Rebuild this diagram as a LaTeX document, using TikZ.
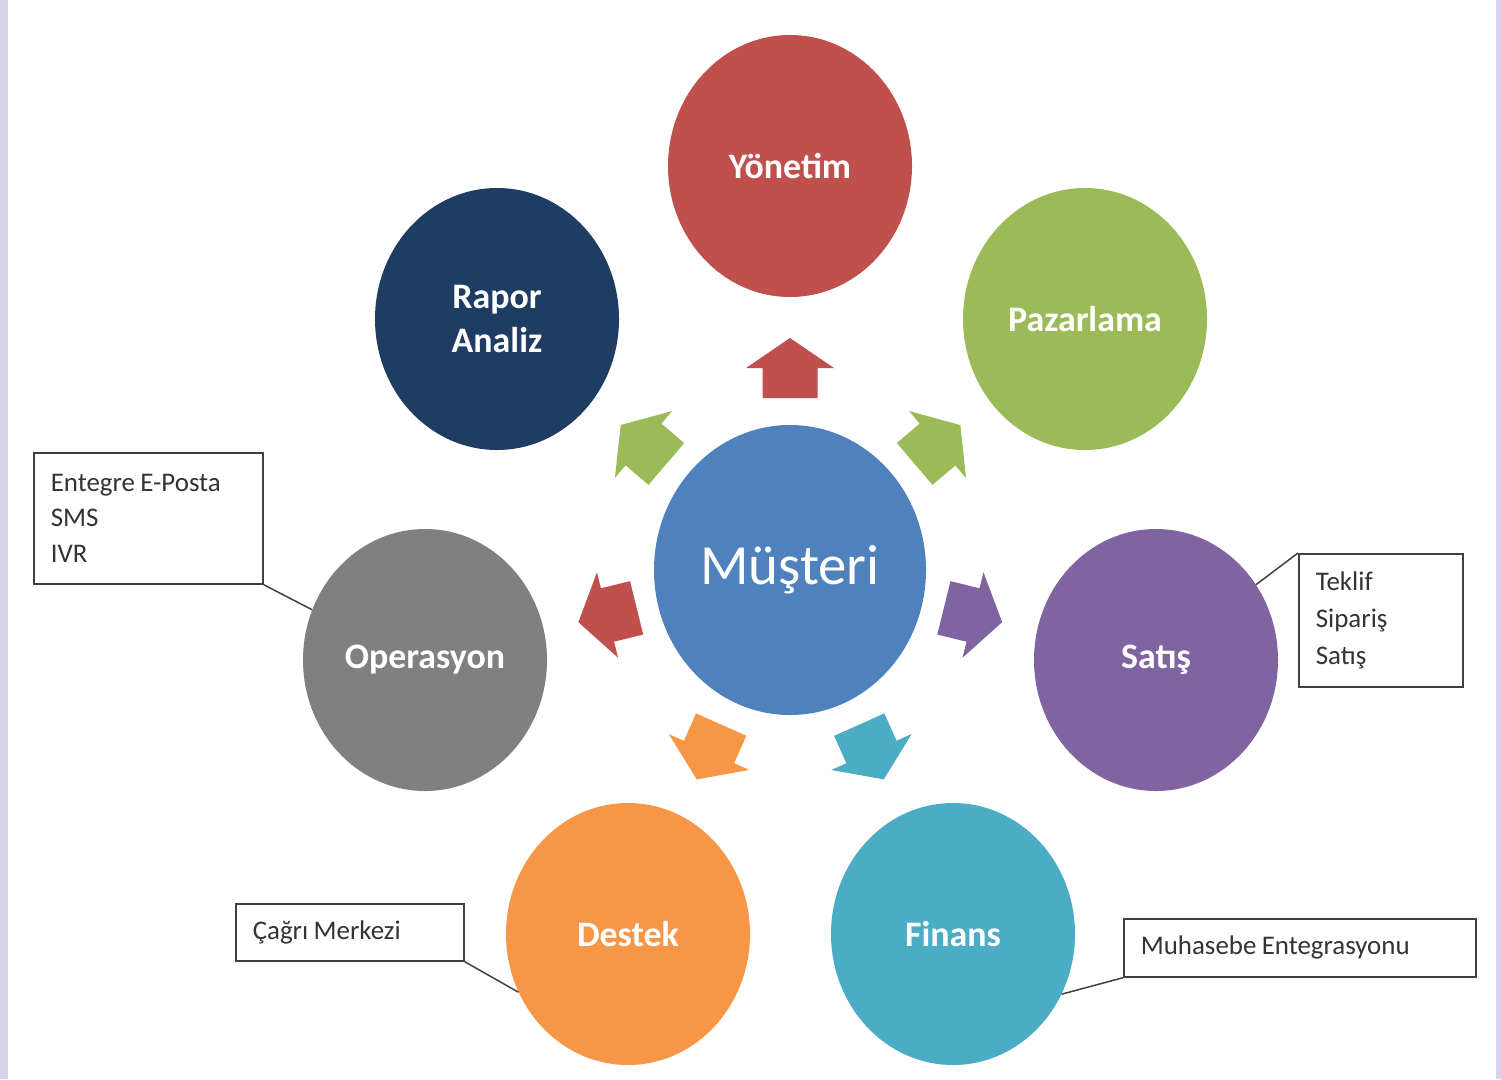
\documentclass[tikz,border=0pt]{standalone}
\usepackage{fontspec}
\setmainfont{Carlito}
\usetikzlibrary{shapes.geometric}

\definecolor{cRed}{HTML}{C0504D}
\definecolor{cNavy}{HTML}{1F3D63}
\definecolor{cGreen}{HTML}{9BBB59}
\definecolor{cGray}{HTML}{808080}
\definecolor{cBlue}{HTML}{4F81BD}
\definecolor{cPurple}{HTML}{8064A2}
\definecolor{cOrange}{HTML}{F79646}
\definecolor{cTeal}{HTML}{4BACC6}
\definecolor{cLav}{HTML}{D9D2EA}
\definecolor{cLine}{HTML}{404040}

\tikzset{
  unit/.style={ellipse, inner sep=0pt, minimum width=244bp, minimum height=262bp,
    text=white, align=center, font=\fontsize{36}{44}\selectfont\bfseries},
  hub/.style={ellipse, inner sep=0pt, minimum width=272bp, minimum height=290bp,
    fill=cBlue, text=white, font=\fontsize{57}{60}\selectfont},
  note/.style={draw=cLine, line width=1.7pt, fill=white, rectangle, anchor=north west,
    inner xsep=17bp, inner ysep=0pt, align=left, text=black!80,
    font=\fontsize{27}{36}\selectfont,
    execute at begin node={\spaceskip=0.2em\relax}},
  leader/.style={draw=cLine, line width=1.5pt},
  blockarrow/.pic={\fill[pic actions] (30,0) -- (0,44) -- (0,27.5) -- (-30,27.5)
    -- (-30,-27.5) -- (0,-27.5) -- (0,-44) -- cycle;},
}

\begin{document}
\begin{tikzpicture}[x=1bp, y=-1bp]
  % page and side strips
  \fill[white] (0,0) rectangle (1501,1079);
  \useasboundingbox (0,0) rectangle (1501,1079);
  \fill[cLav] (0,0) rectangle (8,1079);
  \fill[cLav] (1496,0) rectangle (1501,1079);

  % departments around the customer
  \node[hub] (m) at (790,570) {Müşteri};
  \node[unit, fill=cRed]    (yon) at (790,166)  {Yönetim};
  \node[unit, fill=cNavy]   (rap) at (497,319)  {Rapor\\Analiz};
  \node[unit, fill=cGreen]  (paz) at (1085,319) {Pazarlama};
  \node[unit, fill=cGray]   (ope) at (425,660)  {Operasyon};
  \node[unit, fill=cPurple] (sat) at (1156,660) {Satış};
  \node[unit, fill=cOrange] (des) at (628,934)  {Destek};
  \node[unit, fill=cTeal]   (fin) at (953,934)  {Finans};

  % block arrows pointing out from the hub
  \path (m.center) -- (yon.center) pic[pos=0.5, sloped, allow upside down, fill=cRed]    {blockarrow};
  \path (m.center) -- (rap.center) pic[pos=0.5, sloped, allow upside down, fill=cGreen]  {blockarrow};
  \path (m.center) -- (paz.center) pic[pos=0.5, sloped, allow upside down, fill=cGreen]  {blockarrow};
  \path (m.center) -- (ope.center) pic[pos=0.5, sloped, allow upside down, fill=cRed]    {blockarrow};
  \path (m.center) -- (sat.center) pic[pos=0.5, sloped, allow upside down, fill=cPurple] {blockarrow};
  \path (m.center) -- (des.center) pic[pos=0.5, sloped, allow upside down, fill=cOrange] {blockarrow};
  \path (m.center) -- (fin.center) pic[pos=0.5, sloped, allow upside down, fill=cTeal]   {blockarrow};

  % callout notes
  \node[note, minimum width=229bp, minimum height=131bp, text width=195bp] (nope) at (33,452)
    {Entegre E-Posta\\SMS\\IVR};
  \node[note, minimum width=164bp, minimum height=133bp, text width=130bp,
    font=\fontsize{27}{37}\selectfont] (nsat) at (1298,553)
    {Teklif\\Sipariş\\Satış};
  \node[note, minimum width=228bp, minimum height=57bp, text width=194bp] (ndes) at (235,903)
    {Çağrı Merkezi};
  \node[note, minimum width=352bp, minimum height=58bp, text width=318bp] (nfin) at (1123,918)
    {Muhasebe Entegrasyonu};

  % leader lines
  \draw[leader] (nope.south east) -- (ope.156);
  \draw[leader] (nsat.north west) -- (sat.37);
  \draw[leader] (ndes.south east) -- (des.208);
  \draw[leader] (nfin.south west) -- (fin.331);
\end{tikzpicture}
\end{document}
